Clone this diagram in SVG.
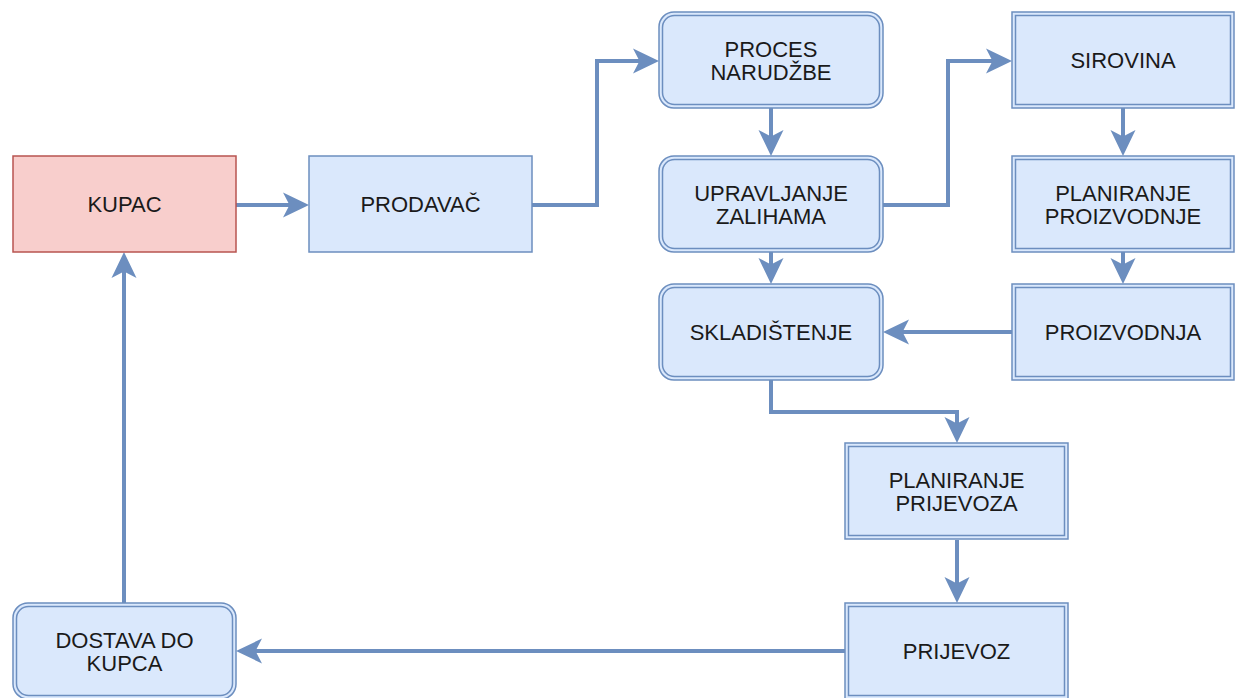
<svg xmlns="http://www.w3.org/2000/svg" width="1235" height="698" viewBox="0 0 1235 698">
<defs>
<style>
.box{fill:#dae8fc;stroke:#6c8ebf;stroke-width:1.5}
.inner{fill:none;stroke:#6c8ebf;stroke-width:1.5}
.red{fill:#f8cecc;stroke:#b85450;stroke-width:1.5}
.lbl{font-family:"Liberation Sans",Arial,Helvetica,sans-serif;font-size:22px;fill:#1a1a1a;text-anchor:middle}
.edge{fill:none;stroke:#6c8ebf;stroke-width:4;stroke-linejoin:miter}
</style>
<marker id="arr" markerUnits="userSpaceOnUse" markerWidth="27" markerHeight="27" viewBox="0 0 27 27" refX="18" refY="13.5" orient="auto">
<path d="M0,1 L26,13.5 L0,26 L6.5,13.5 Z" fill="#6c8ebf"/>
</marker>
</defs>
<rect width="1235" height="698" fill="#ffffff"/>
<g id="connectors">
<path class="edge" d="M236,205 H301" marker-end="url(#arr)"/>
<path class="edge" d="M532,205 H597 V61 H651" marker-end="url(#arr)"/>
<path class="edge" d="M771,108 V148" marker-end="url(#arr)"/>
<path class="edge" d="M883,205 H948 V61 H1004" marker-end="url(#arr)"/>
<path class="edge" d="M1123,108 V148" marker-end="url(#arr)"/>
<path class="edge" d="M1123,252 V276" marker-end="url(#arr)"/>
<path class="edge" d="M1012,332 H891" marker-end="url(#arr)"/>
<path class="edge" d="M771,252 V276" marker-end="url(#arr)"/>
<path class="edge" d="M771,380 V412 H957 V435" marker-end="url(#arr)"/>
<path class="edge" d="M957,540 V595" marker-end="url(#arr)"/>
<path class="edge" d="M845,651 H244" marker-end="url(#arr)"/>
<path class="edge" d="M124,603 V260" marker-end="url(#arr)"/>
</g>
<g id="kupac">
<rect class="red" x="13" y="156" width="223" height="96"/>
<text class="lbl" x="124.5" y="212">KUPAC</text>
</g>
<g id="prodavac">
<rect class="box" x="309" y="156" width="223" height="96"/>
<text class="lbl" x="420.5" y="212">PRODAVAČ</text>
</g>
<g id="proces-narudzbe">
<rect class="box" x="659" y="12" width="224" height="96" rx="15"/>
<rect class="inner" x="662.5" y="15.5" width="217" height="89" rx="12"/>
<text class="lbl" x="771" y="57">PROCES</text>
<text class="lbl" x="771" y="80">NARUDŽBE</text>
</g>
<g id="upravljanje-zalihama">
<rect class="box" x="659" y="156" width="224" height="96" rx="15"/>
<rect class="inner" x="662.5" y="159.5" width="217" height="89" rx="12"/>
<text class="lbl" x="771" y="201">UPRAVLJANJE</text>
<text class="lbl" x="771" y="224">ZALIHAMA</text>
</g>
<g id="skladistenje">
<rect class="box" x="659" y="284" width="224" height="96" rx="15"/>
<rect class="inner" x="662.5" y="287.5" width="217" height="89" rx="12"/>
<text class="lbl" x="771" y="340">SKLADIŠTENJE</text>
</g>
<g id="sirovina">
<rect class="box" x="1012" y="12" width="222" height="96"/>
<rect class="inner" x="1015.5" y="15.5" width="215" height="89"/>
<text class="lbl" x="1123" y="68">SIROVINA</text>
</g>
<g id="planiranje-proizvodnje">
<rect class="box" x="1012" y="156" width="222" height="96"/>
<rect class="inner" x="1015.5" y="159.5" width="215" height="89"/>
<text class="lbl" x="1123" y="201">PLANIRANJE</text>
<text class="lbl" x="1123" y="224">PROIZVODNJE</text>
</g>
<g id="proizvodnja">
<rect class="box" x="1012" y="284" width="222" height="96"/>
<rect class="inner" x="1015.5" y="287.5" width="215" height="89"/>
<text class="lbl" x="1123" y="340">PROIZVODNJA</text>
</g>
<g id="planiranje-prijevoza">
<rect class="box" x="845" y="443" width="223" height="96"/>
<rect class="inner" x="848.5" y="446.5" width="216" height="89"/>
<text class="lbl" x="956.5" y="488">PLANIRANJE</text>
<text class="lbl" x="956.5" y="511">PRIJEVOZA</text>
</g>
<g id="prijevoz">
<rect class="box" x="845" y="603" width="223" height="96"/>
<rect class="inner" x="848.5" y="606.5" width="216" height="89"/>
<text class="lbl" x="956.5" y="659">PRIJEVOZ</text>
</g>
<g id="dostava-do-kupca">
<rect class="box" x="13" y="603" width="223" height="96" rx="15"/>
<rect class="inner" x="16.5" y="606.5" width="216" height="89" rx="12"/>
<text class="lbl" x="124.5" y="648">DOSTAVA DO</text>
<text class="lbl" x="124.5" y="671">KUPCA</text>
</g>
</svg>
